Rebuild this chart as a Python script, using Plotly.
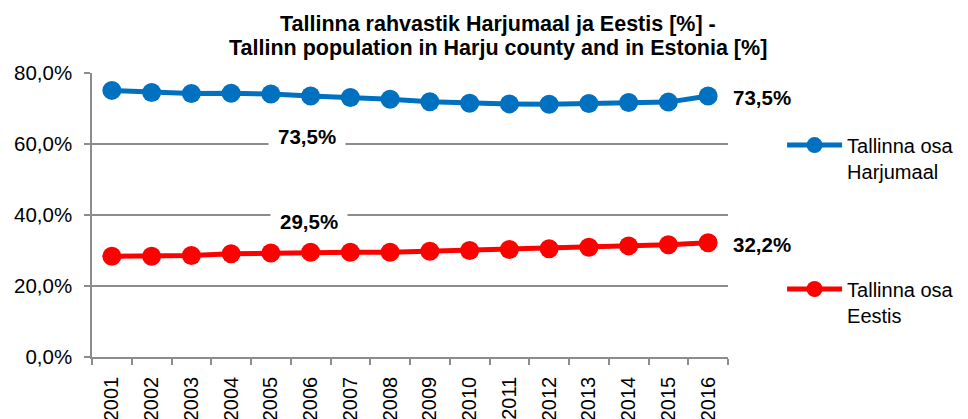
import plotly.graph_objects as go

years = [str(y) for y in range(2001, 2017)]
harju_share = [75.1, 74.5, 74.2, 74.3, 74.1, 73.5, 73.1, 72.6, 71.9, 71.5, 71.3, 71.2, 71.4, 71.7, 71.8, 73.5]
estonia_share = [28.4, 28.4, 28.6, 29.1, 29.3, 29.5, 29.5, 29.5, 29.8, 30.0, 30.3, 30.5, 30.9, 31.3, 31.6, 32.2]
series_names = ["Tallinna osa<br>Harjumaal", "Tallinna osa<br>Eestis"]
y_ticks = [0, 20, 40, 60, 80]
title_lines = ["Tallinna rahvastik Harjumaal ja Eestis [%] -",
               "Tallinn population in Harju county and in Estonia [%]"]

BLUE = "#0070C0"
RED = "#FF0000"
GRID = "#8c8c8c"
FONT = "Liberation Sans"

def fmt(v):
    return f"{v:.1f}".replace(".", ",") + "%"

n = len(years)
idx = list(range(n))

fig = go.Figure()
fig.add_trace(go.Scatter(
    x=idx, y=harju_share, name=series_names[0], mode="lines+markers",
    line=dict(color=BLUE, width=5), marker=dict(color=BLUE, size=19),
    legend="legend", cliponaxis=False))
fig.add_trace(go.Scatter(
    x=idx, y=estonia_share, name=series_names[1], mode="lines+markers",
    line=dict(color=RED, width=5), marker=dict(color=RED, size=19),
    legend="legend2", cliponaxis=False))

lab_font = dict(family=FONT, size=20.5, color="black")
anns = []
anns.append(dict(x=idx[-1], y=harju_share[-1], text="<b>" + fmt(harju_share[-1]) + "</b>",
                 showarrow=False, xanchor="left", xshift=23, yshift=-1, font=lab_font))
anns.append(dict(x=idx[-1], y=estonia_share[-1], text="<b>" + fmt(estonia_share[-1]) + "</b>",
                 showarrow=False, xanchor="left", xshift=23, yshift=-2, font=lab_font))
anns.append(dict(x=idx[5], y=harju_share[5], text="<b>" + fmt(harju_share[5]) + "</b>",
                 showarrow=False, xanchor="center", xshift=-4, yshift=-40,
                 bgcolor="white", borderpad=9, font=lab_font))
anns.append(dict(x=idx[5], y=estonia_share[5], text="<b>" + fmt(estonia_share[5]) + "</b>",
                 showarrow=False, xanchor="center", xshift=-2, yshift=31,
                 bgcolor="white", borderpad=9, font=lab_font))
for line, shift in zip(title_lines, [49, 25]):
    anns.append(dict(xref="paper", yref="paper", x=0.6376, y=1.0, yshift=shift,
                     xanchor="center", yanchor="middle", showarrow=False,
                     text="<b>" + line + "</b>",
                     font=dict(family=FONT, size=21.5, color="black")))

fig.update_layout(
    width=968, height=419,
    margin=dict(l=92, r=240, t=73, b=62, autoexpand=False),
    paper_bgcolor="white", plot_bgcolor="white",
    font=dict(family=FONT, size=20, color="black"),
    xaxis=dict(range=[-0.5, n - 0.5], autorange=False, automargin=False,
               tickvals=idx, ticktext=years,
               showgrid=False, showline=True, linecolor=GRID, linewidth=1.5,
               ticks="", tickangle=-90, tickfont=dict(family=FONT, size=20, color="black"),
               zeroline=False, minor=dict(tickvals=[i - 0.5 for i in range(n + 1)],
                                          ticks="outside", ticklen=6, tickcolor=GRID,
                                          tickwidth=1.5, showgrid=False),
               ticklabelstandoff=10),
    yaxis=dict(range=[0, 80], autorange=False, automargin=False, tickvals=y_ticks,
               ticktext=[fmt(v) for v in y_ticks],
               showgrid=True, gridcolor=GRID, gridwidth=1.5,
               showline=True, linecolor=GRID, linewidth=1.5, zeroline=False,
               ticks="outside", ticklen=6, tickcolor=GRID, tickwidth=1.5,
               tickfont=dict(family=FONT, size=20.5, color="black"),
               ticklabelstandoff=8),
    legend=dict(x=1.085, y=0.815, xanchor="left", yanchor="top", bgcolor="rgba(0,0,0,0)",
                font=dict(family=FONT, size=20, color="black"), itemwidth=55, valign="top"),
    legend2=dict(x=1.085, y=0.308, xanchor="left", yanchor="top", bgcolor="rgba(0,0,0,0)",
                 font=dict(family=FONT, size=20, color="black"), itemwidth=55, valign="top"),
    annotations=anns,
    showlegend=True,
)

fig.write_html("out.html", config={"displayModeBar": False},
               post_script="document.body.style.margin='0';document.body.style.overflow='hidden';")
